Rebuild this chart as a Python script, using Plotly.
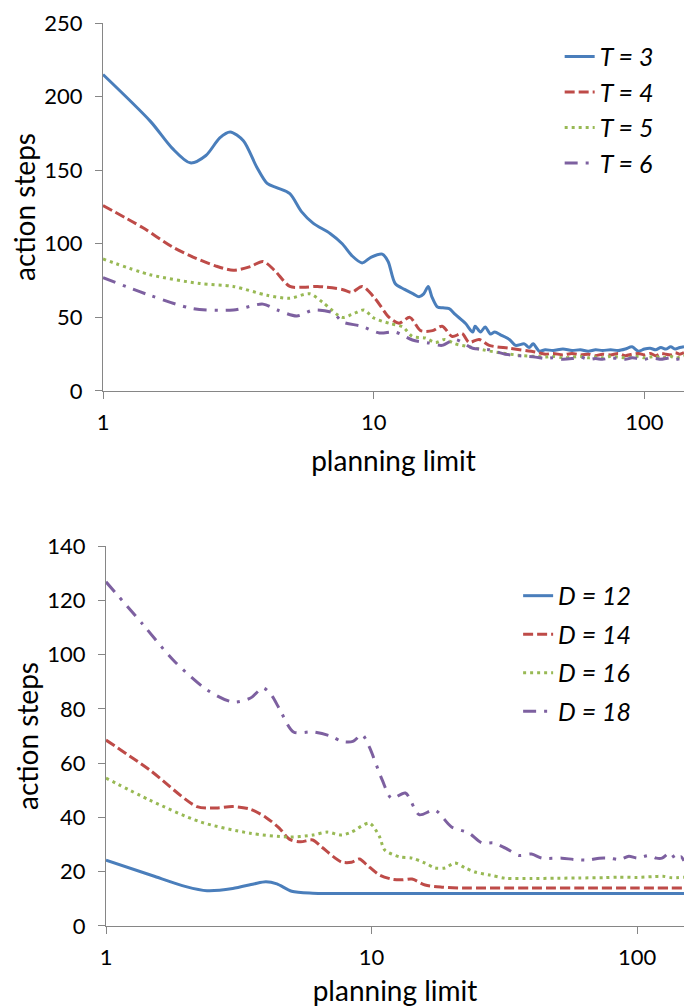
import math
import plotly.graph_objects as go

# ---------- top chart data (T) ----------
tail_x = [43, 46, 50, 54, 58, 62, 66, 70, 75, 80, 85, 90, 95, 100, 105, 110, 115, 120, 125, 130, 135, 140]

t3_x = [1, 1.5, 1.8, 2.1, 2.4, 2.7, 2.95, 3.3, 3.7, 4.04, 4.4, 4.9, 5.4, 5.97, 6.9, 7.65, 8.3, 9.06, 9.8, 10.75, 11.3, 12, 13, 14,
        14.7, 15.3, 15.9, 16.4, 17.2, 18, 19, 20, 21.8, 23.2, 23.7, 24.8, 25.8, 27, 28, 29.5, 31.7, 33.4, 36, 37.5, 38.8, 40.9] + tail_x
t3_y = [215, 183, 165, 155, 160, 172, 176, 170, 152, 141, 138, 134, 122, 114, 107, 100, 92, 87, 91, 93, 88, 73, 69, 66,
        64, 66, 71, 64, 57, 56.5, 56, 52, 46, 40, 44, 40, 43.5, 38.7, 40, 38, 35, 31, 32, 29.5, 32, 27] + \
       [28, 27.5, 28.5, 27.5, 28, 27, 28, 27.5, 28, 27.5, 28.5, 30, 27, 28.5, 29, 28, 29.5, 28.5, 30, 28.5, 29.5, 30]

t4_x = [1, 1.4, 1.8, 2.15, 2.6, 3.03, 3.5, 3.9, 4.3, 4.9, 5.5, 6.2, 7.65, 8.3, 9.06, 10.1, 11.4, 12.4, 13.6, 14.9, 16.5,
        17.9, 19.5, 21.2, 22.5, 24.5, 26.7, 31.7, 39.5] + tail_x
t4_y = [126, 111, 98, 91, 85, 82, 84.5, 88, 82, 71, 70.5, 71, 69, 67, 71, 63, 50, 46, 50, 41, 41,
        44, 37, 39, 33, 35, 31, 29, 26.5] + \
       [25, 25.5, 24.5, 25.5, 24.5, 25, 24, 25, 24.5, 25.5, 24, 25, 25.5, 24.5, 25.5, 24, 25.5, 25, 24.5, 26, 25, 26]

t5_x = [1, 1.49, 2.28, 3.03, 4.04, 4.9, 5.8, 6.5, 7.65, 8.3, 9.2, 10, 11.4, 12.8, 13.9, 15.5, 16.9, 18.3, 20, 22.5, 25.2,
        28, 35.4, 40] + tail_x
t5_y = [89.7, 79, 73, 71, 65, 63, 66, 60, 50, 52, 55, 49.6, 46, 43.5, 37, 36, 33, 35, 32, 30, 28,
        26.5, 24, 23.5] + \
       [23, 23.5, 22.5, 23, 23.5, 22.5, 23, 22.5, 23.5, 23, 22.5, 23, 23.5, 22.5, 23, 23.5, 22.5, 23, 23.5, 22.5, 23, 24]

t6_x = [1, 1.49, 2.15, 3.03, 3.9, 4.4, 5.2, 6, 7.1, 7.65, 9, 10.5, 12, 13.9, 16, 17.9, 20, 23.2, 26.7, 30.6, 39.5] + tail_x
t6_y = [77, 65, 56, 55, 59, 55, 51, 55, 53, 47, 44, 39.4, 40, 34.6, 32.6, 31, 35, 29, 28, 25, 23] + \
       [22, 22.5, 21.5, 22, 23, 21.5, 22, 21.5, 22.5, 22, 21.5, 22.5, 22, 21.5, 22.5, 22, 21.5, 22, 22.5, 21.5, 22, 23]

# ---------- bottom chart data (D) ----------
d12_x = [1, 1.5, 2, 2.4, 3, 3.6, 4, 4.4, 5, 6, 7, 10, 20, 50, 100, 150]
d12_y = [24.3, 18.5, 14.5, 13, 13.8, 15.5, 16.3, 15.5, 12.8, 12.1, 12, 12, 12, 12, 12, 12]

d14_x = [1, 1.46, 2.2, 2.6, 3, 3.5, 4, 4.5, 4.9, 5.4, 6, 6.5, 7.7, 8.4, 9, 9.6, 10.7, 12, 13, 14.2, 15.9, 18.4, 22,
         40, 70, 100, 150]
d14_y = [68.5, 57.5, 44, 43.5, 44, 43, 40, 36, 32, 31, 31.7, 29, 23.6, 23.5, 24.7, 22.5, 18.8, 17.2, 17, 17.3, 15.1, 14.3, 14,
         14, 14, 14, 14]

d16_x = [1, 1.46, 2.26, 3.48, 4.93, 6, 6.8, 7.7, 8.4, 9.8, 10.7, 11.2, 12.7, 14.2, 15.9, 17.3, 18.9, 20.6, 22.5, 24.5,
         27.8, 31.9, 40, 50, 60, 75, 85, 100, 115, 125, 135, 150]
d16_y = [54.5, 46.4, 38.4, 34.2, 32.8, 33.5, 34.6, 33.5, 34.6, 37.9, 33, 28, 25.5, 25, 23.2, 21.4, 21.4, 23.2, 21.4, 19.9,
         18.8, 17.6, 17.5, 17.6, 17.7, 17.8, 18, 17.9, 18.2, 18.3, 17.8, 18]

d18_x = [1, 1.38, 1.79, 2.4, 3.01, 3.5, 3.9, 4.2, 4.52, 5.08, 6, 7, 7.74, 8.5, 9.2, 9.8, 10.96, 11.9, 13.4, 15.1, 17.3,
         20, 23.2, 26, 28.8, 31.9, 35.9, 40, 43.8, 52, 58, 65.7, 72, 78.6, 86, 93, 100, 111, 118, 124, 133, 140, 146, 150]
d18_y = [126.8, 111, 98, 87, 82.5, 84, 87.7, 85, 79.6, 71.5, 71.5, 70, 68, 68, 70.5, 66, 53.8, 47, 49, 41, 42.7,
         36.5, 34.3, 30.6, 30.6, 28.7, 26, 26.5, 25, 25, 24.5, 24.3, 25, 25, 24.5, 25.7, 25, 26, 25, 25, 27, 24.5, 25.5, 24]

top_names = ["T = 3", "T = 4", "T = 5", "T = 6"]
bot_names = ["D = 12", "D = 14", "D = 16", "D = 18"]
y_title = "action steps"
x_title = "planning limit"
top_yticks = [0, 50, 100, 150, 200, 250]
bot_yticks = [0, 20, 40, 60, 80, 100, 120, 140]
x_tickvals = [1, 10, 100]
x_ticktext = ["1", "10", "100"]

colors = ["#4A7EBB", "#BE4B48", "#98B954", "#7D60A0"]
dashes = ["solid", "10px,4px", "3px,4px", "13px,8px,3px,8px"]

FONT = "Lato"
fig = go.Figure()

top_series = [(t3_x, t3_y), (t4_x, t4_y), (t5_x, t5_y), (t6_x, t6_y)]
for i, (xs, ys) in enumerate(top_series):
    fig.add_trace(go.Scatter(x=xs, y=ys, name=top_names[i], mode="lines", xaxis="x", yaxis="y",
                             line=dict(color=colors[i], width=3, dash=dashes[i], shape="spline", smoothing=0.8),
                             legend="legend", legendgroup="t%d" % i))

bot_series = [(d12_x, d12_y), (d14_x, d14_y), (d16_x, d16_y), (d18_x, d18_y)]
for i, (xs, ys) in enumerate(bot_series):
    fig.add_trace(go.Scatter(x=xs, y=ys, name=bot_names[i], mode="lines", xaxis="x2", yaxis="y2",
                             line=dict(color=colors[i], width=3, dash=dashes[i], shape="spline", smoothing=0.8),
                             legend="legend2", legendgroup="d%d" % i))

axis_common = dict(showline=True, linecolor="#868686", linewidth=1, ticks="outside", tickcolor="#868686",
                   ticklen=7, showgrid=False, zeroline=False, automargin=False,
                   tickfont=dict(family=FONT, size=22, color="#000"))
title_font = dict(family=FONT, size=28, color="#000")

fig.update_layout(
    width=684, height=1007,
    margin=dict(l=103, r=0, t=23, b=81),
    plot_bgcolor="white", paper_bgcolor="white",
    font=dict(family=FONT, color="#000"),
    xaxis=dict(type="log", range=[0, math.log10(140)], domain=[0, 1], anchor="y",
               tickvals=x_tickvals, ticktext=x_ticktext, ticklabelstandoff=5,
               title=dict(text=x_title, font=title_font, standoff=17), **axis_common),
    yaxis=dict(range=[0, 250], domain=[0.5925, 1], anchor="x", tickvals=top_yticks, ticklabelstandoff=8,
               title=dict(text=y_title, font=title_font, standoff=0), **axis_common),
    xaxis2=dict(type="log", range=[0, math.log10(150)], domain=[3 / 581, 1], anchor="y2",
                tickvals=x_tickvals, ticktext=x_ticktext, ticklabelstandoff=5,
                title=dict(text=x_title, font=title_font, standoff=17), **axis_common),
    yaxis2=dict(range=[0, 140], domain=[0, 0.4208], anchor="x2", tickvals=bot_yticks, ticklabelstandoff=8,
                title=dict(text=y_title, font=title_font, standoff=0), **axis_common),
    legend=dict(x=0.786, y=0.988, xanchor="left", yanchor="top", bgcolor="rgba(0,0,0,0)",
                font=dict(family=FONT, size=25, style="italic"), tracegroupgap=0),
    legend2=dict(x=0.7145, y=0.391, xanchor="left", yanchor="top", bgcolor="rgba(0,0,0,0)",
                 font=dict(family=FONT, size=25, style="italic"), tracegroupgap=3),
    showlegend=True,
)

fig.write_html("out.html", config={"displayModeBar": False},
               post_script="document.body.style.margin='0';")
